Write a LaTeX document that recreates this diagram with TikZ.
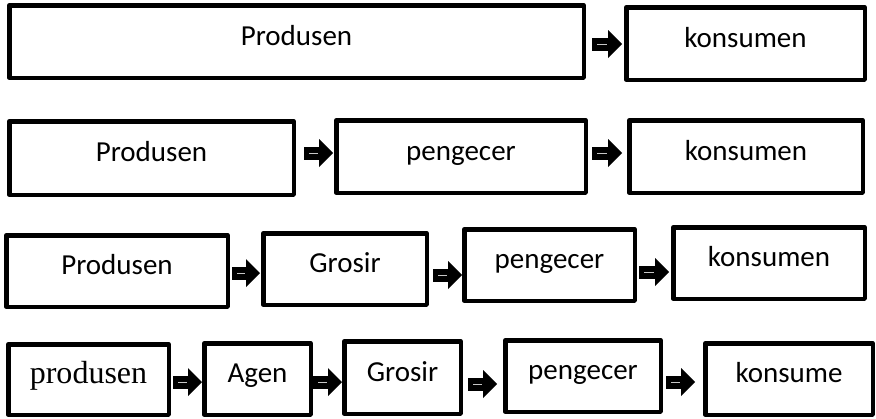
\documentclass[tikz,border=0pt]{standalone}
\usepackage{fontspec}
\setmainfont{Carlito}
\newfontfamily\timesfont{Liberation Serif}
\usetikzlibrary{arrows.meta}

\newcommand*{\px}{0.5pt}
\newcommand*{\xMax}{876}
\newcommand*{\yMax}{418}

\begin{document}
\begin{tikzpicture}[x=\px, y=-\px,
    box/.style={draw, line width=2.25pt, line join=round, inner sep=0pt,
        font=\fontsize{14.5}{17}\selectfont, text height=10.5pt, text depth=7pt},
    sz/.style 2 args={minimum width=#1*\px-2.25pt, minimum height=#2*\px-2.25pt},
    flow/.style={line width=6.5pt, -{Triangle[length=7pt, width=14pt, line width=0pt]},
        postaction={draw=gray!45, line width=0.4pt, -, shorten <=2.5pt, shorten >=7.5pt}}]
\useasboundingbox (0,0) rectangle (\xMax,\yMax);

% row 1
\node[box, sz={579}{77}] (r1a) at (296.5,41.5) {Produsen};
\node[box, sz={243}{77}] (r1b) at (745.5,43.5) {konsumen};
\draw[flow] ([xshift=3pt]r1a.east |- 0,44) -- ([xshift=-1pt]r1b.west |- 0,44);

% row 2
\node[box, sz={289}{78}] (r2a) at (151.5,158) {Produsen};
\node[box, sz={254}{77}] (r2b) at (461,156.5) {pengecer};
\node[box, sz={238}{77}] (r2c) at (746,156.5) {konsumen};
\draw[flow] ([xshift=4pt]r2a.east |- 0,153) -- ([xshift=-0.5pt]r2b.west |- 0,153);
\draw[flow] ([xshift=2pt]r2b.east |- 0,153) -- ([xshift=-2.5pt]r2c.west |- 0,153);

% row 3
\node[box, sz={226}{76}] (r3a) at (117,271) {Produsen};
\node[box, sz={168}{76}] (r3b) at (345,269) {Grosir};
\node[box, sz={175}{76}] (r3c) at (549.5,265) {pengecer};
\node[box, sz={196}{76}] (r3d) at (769,263) {konsumen};
\draw[flow] ([xshift=1pt]r3a.east |- 0,273) -- ([xshift=-0.5pt]r3b.west |- 0,273);
\draw[flow] ([xshift=2pt]r3b.east |- 0,275) -- ([xshift=0pt]r3c.west |- 0,275);
\draw[flow] ([xshift=1pt]r3c.east |- 0,272) -- ([xshift=-1pt]r3d.west |- 0,272);

% row 4
\node[box, sz={165}{75}, font=\timesfont\fontsize{16}{19}\selectfont] (r4a) at (88.5,379.5) {produsen};
\node[box, sz={111}{76}] (r4b) at (257.5,379) {Agen};
\node[box, sz={121}{77}] (r4c) at (402.5,377.5) {Grosir};
\node[box, sz={160}{76}] (r4d) at (583,376) {pengecer};
\node[box, sz={172}{76}] (r4e) at (789,379) {konsume};
\draw[flow] ([xshift=1pt]r4a.east |- 0,382) -- ([xshift=0pt]r4b.west |- 0,382);
\draw[flow] ([xshift=0pt]r4b.east |- 0,382) -- ([xshift=0pt]r4c.west |- 0,382);
\draw[flow] ([xshift=2.5pt]r4c.east |- 0,384) -- ([xshift=-3pt]r4d.west |- 0,384);
\draw[flow] ([xshift=1.5pt]r4d.east |- 0,382) -- ([xshift=-4pt]r4e.west |- 0,382);

\end{tikzpicture}
\end{document}
